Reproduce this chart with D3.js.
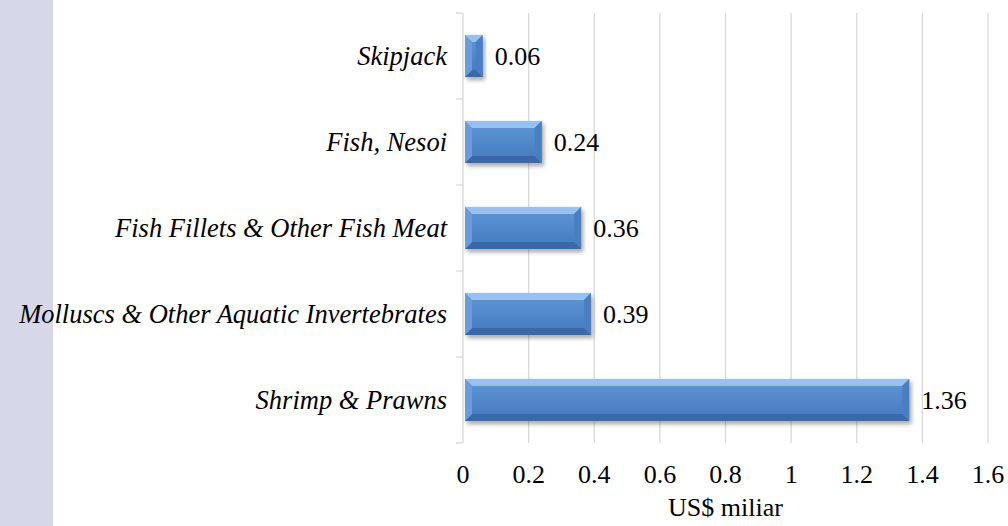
<!DOCTYPE html>
<html>
<head>
<meta charset="utf-8">
<script src="https://cdn.jsdelivr.net/npm/d3@7"></script>
<style>
  body { margin: 0; background: #fff; }
  svg { display: block; }
  svg text { font-family: "Liberation Serif", "Times New Roman", serif; font-size: 26px; fill: #000; }
</style>
</head>
<body>
<script>
"use strict";

// data
const categories = ["Skipjack", "Fish, Nesoi", "Fish Fillets & Other Fish Meat",
                    "Molluscs & Other Aquatic Invertebrates", "Shrimp & Prawns"];
const values = [0.06, 0.24, 0.36, 0.39, 1.36];
const xTicks = [0, 0.2, 0.4, 0.6, 0.8, 1, 1.2, 1.4, 1.6];
const xTitle = "US$ miliar";

let w = 1008, h = 526;
let plotLeft = 463, plotRight = 988, plotTop = 13, plotBottom = 443;

let svg = d3.select("body").append("svg").attr("width", w).attr("height", h);

// lavender strip on the left
svg.append("rect").attr("x", 0).attr("y", 0).attr("width", 53).attr("height", h)
  .attr("fill", "#d6d8ea");

let x = d3.scaleLinear().domain([0, 1.6]).range([plotLeft, plotRight]);
let y = d3.scaleBand().domain(categories).range([plotTop, plotBottom]).paddingInner(0.51).paddingOuter(0.255);

// shadow
let defs = svg.append("defs");
let f = defs.append("filter").attr("id", "shadow").attr("x", "-10%").attr("y", "-30%")
  .attr("width", "130%").attr("height", "180%");
f.append("feDropShadow").attr("dx", 2).attr("dy", 3).attr("stdDeviation", 2)
  .attr("flood-color", "#000").attr("flood-opacity", 0.35);

let grad = defs.append("linearGradient").attr("id", "face").attr("x1", 0).attr("y1", 0).attr("x2", 0).attr("y2", 1);
grad.append("stop").attr("offset", "0%").attr("stop-color", "#5f97d8");
grad.append("stop").attr("offset", "100%").attr("stop-color", "#4479bd");

// gridlines
svg.append("g").selectAll("line").data(xTicks.slice(1)).enter().append("line")
  .attr("x1", d => x(d)).attr("x2", d => x(d))
  .attr("y1", plotTop).attr("y2", plotBottom)
  .attr("stroke", "#d9d9d9").attr("stroke-width", 1.3);

// y axis line + tick marks at band edges
let edges = categories.map(c => y(c) - y.step() * y.paddingInner() / 2);
edges.push(plotBottom);
svg.append("line").attr("x1", plotLeft).attr("x2", plotLeft).attr("y1", plotTop).attr("y2", plotBottom)
  .attr("stroke", "#d9d9d9").attr("stroke-width", 1.3);
svg.append("g").selectAll("line").data(edges).enter().append("line")
  .attr("x1", plotLeft - 7).attr("x2", plotLeft).attr("y1", d => d).attr("y2", d => d)
  .attr("stroke", "#d9d9d9").attr("stroke-width", 1.3);

// bars with bevel
let bev = 7;
let bars = svg.append("g").selectAll("g").data(values).enter().append("g")
  .attr("filter", "url(#shadow)");
bars.each(function (d, i) {
  let g = d3.select(this);
  let x0 = x(0) + 2, x1 = x(d), y0 = y(categories[i]), y1 = y0 + y.bandwidth();
  let b = Math.min(bev, (x1 - x0) / 2);
  g.append("rect").attr("x", x0).attr("y", y0).attr("width", x1 - x0).attr("height", y1 - y0)
    .attr("fill", "url(#face)");
  // top
  g.append("polygon").attr("points", [[x0, y0], [x1, y0], [x1 - b, y0 + bev], [x0 + b, y0 + bev]].join(" "))
    .attr("fill", "#98c1ef");
  // bottom
  g.append("polygon").attr("points", [[x0, y1], [x1, y1], [x1 - b, y1 - bev], [x0 + b, y1 - bev]].join(" "))
    .attr("fill", "#3a68a6");
  // right
  g.append("polygon").attr("points", [[x1, y0], [x1, y1], [x1 - b, y1 - bev], [x1 - b, y0 + bev]].join(" "))
    .attr("fill", "#4a7fc2");
  // left
  g.append("polygon").attr("points", [[x0, y0], [x0, y1], [x0 + b, y1 - bev], [x0 + b, y0 + bev]].join(" "))
    .attr("fill", "#6a9dd8");
});

// value labels
svg.append("g").selectAll("text").data(values).enter().append("text")
  .attr("x", d => x(d) + 12)
  .attr("y", (d, i) => y(categories[i]) + y.bandwidth() / 2)
  .attr("dy", "0.35em")
  .text(d => d);

// category labels
svg.append("g").selectAll("text").data(categories).enter().append("text")
  .attr("x", plotLeft - 16)
  .attr("y", d => y(d) + y.bandwidth() / 2)
  .attr("dy", "0.35em")
  .attr("text-anchor", "end")
  .style("font-style", "italic")
  .style("font-size", "26.5px")
  .text(d => d);

// x tick labels
svg.append("g").selectAll("text").data(xTicks).enter().append("text")
  .attr("x", d => x(d)).attr("y", 483)
  .attr("text-anchor", "middle")
  .text(d => d);

svg.append("text").attr("x", (plotLeft + plotRight) / 2).attr("y", 516)
  .attr("text-anchor", "middle")
  .text(xTitle);
</script>
</body>
</html>
